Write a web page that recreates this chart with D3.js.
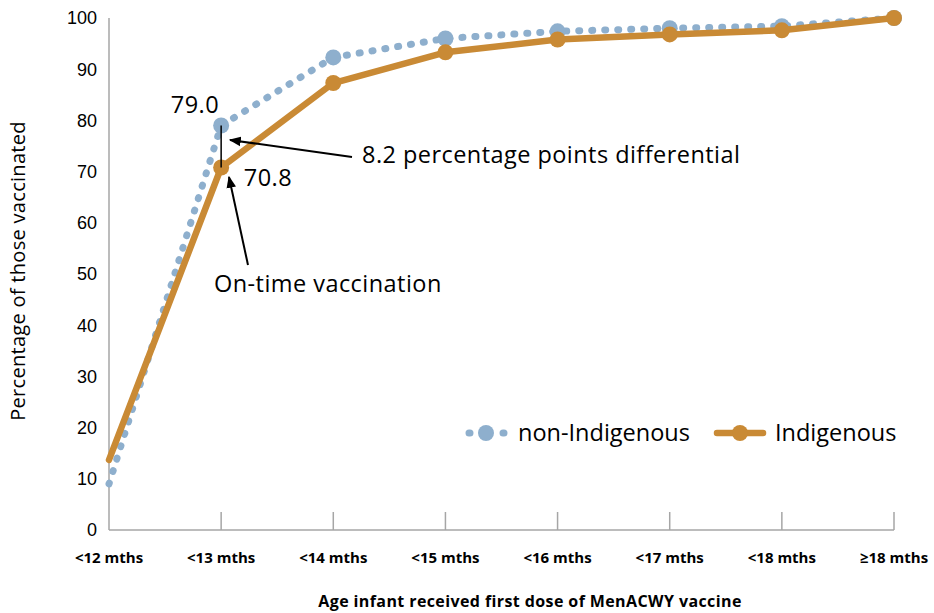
<!DOCTYPE html>
<html>
<head>
<meta charset="utf-8">
<script src="https://cdn.jsdelivr.net/npm/d3@7/dist/d3.min.js"></script>
<style>
body { margin: 0; background: #fff; }
.tick-y { font-family: "Liberation Sans", Arial, sans-serif; font-size: 18px; fill: #000; }
.tick-x { font-family: "Open Sans", sans-serif; font-weight: bold; font-size: 15px; fill: #000; }
.lbl { font-family: "Open Sans", sans-serif; font-size: 23.5px; letter-spacing: 0.45px; fill: #000; }
</style>
</head>
<body>
<svg></svg>
<script>

var width = 934;
var height = 613;

var categories = ["<12 mths", "<13 mths", "<14 mths", "<15 mths", "<16 mths", "<17 mths", "<18 mths", "\u226518 mths"];
var nonIndigenous = [9.0, 79.0, 92.3, 96.0, 97.4, 98.0, 98.4, 100];
var indigenous = [13.7, 70.8, 87.3, 93.3, 95.8, 96.8, 97.6, 100];
var yTicks = [0, 10, 20, 30, 40, 50, 60, 70, 80, 90, 100];

var blue = "#8eafcd";
var orange = "#c98a35";

var svg = d3.select("svg").attr("width", width).attr("height", height);

var x = d3.scalePoint().domain(categories).range([109, 894]);
var y = d3.scaleLinear().domain([0, 100]).range([530, 18]);

// axes
svg.append("line").attr("x1", 109).attr("x2", 109).attr("y1", y(100)).attr("y2", y(0))
  .attr("stroke", "#a6a6a6").attr("stroke-width", 1.5);
svg.append("line").attr("x1", 109).attr("x2", 894).attr("y1", y(0)).attr("y2", y(0))
  .attr("stroke", "#a6a6a6").attr("stroke-width", 1.5);

svg.selectAll(".xt").data(categories.slice(1)).enter().append("line")
  .attr("x1", d => x(d)).attr("x2", d => x(d))
  .attr("y1", y(0)).attr("y2", y(0) - 18)
  .attr("stroke", "#a6a6a6").attr("stroke-width", 1.5);

svg.selectAll(".ty").data(yTicks).enter().append("text")
  .attr("class", "tick-y")
  .attr("x", 97).attr("y", d => y(d)).attr("dy", "0.35em")
  .attr("text-anchor", "end").text(d => d);

svg.selectAll(".tx").data(categories).enter().append("text")
  .attr("class", "tick-x")
  .attr("x", d => x(d)).attr("y", 558).attr("dy", "0.35em")
  .attr("text-anchor", "middle").text(d => d);

svg.append("text").attr("class", "tick-x")
  .style("font-size", "16px").style("letter-spacing", "0.4px")
  .attr("x", 530).attr("y", 601).attr("dy", "0.35em").attr("text-anchor", "middle")
  .text("Age infant received first dose of MenACWY vaccine");

svg.append("text").attr("class", "lbl").style("font-size", "20px").style("letter-spacing", "0.3px")
  .attr("transform", "translate(18,271) rotate(-90)")
  .attr("dy", "0.35em").attr("text-anchor", "middle")
  .text("Percentage of those vaccinated");

var line = d3.line().x((d, i) => x(categories[i])).y(d => y(d));

// non-Indigenous dotted
svg.append("path").datum(nonIndigenous)
  .attr("d", line).attr("fill", "none")
  .attr("stroke", blue).attr("stroke-width", 7)
  .attr("stroke-linecap", "round").attr("stroke-dasharray", "1,12");
svg.selectAll(".pb").data(nonIndigenous).enter().append("circle")
  .attr("cx", (d, i) => x(categories[i])).attr("cy", d => y(d))
  .attr("r", (d, i) => i == 0 ? 0 : 8).attr("fill", blue);

// Indigenous solid
svg.append("path").datum(indigenous)
  .attr("d", line).attr("fill", "none")
  .attr("stroke", orange).attr("stroke-width", 6.5)
  .attr("stroke-linecap", "round").attr("stroke-linejoin", "round");
svg.selectAll(".po").data(indigenous).enter().append("circle")
  .attr("cx", (d, i) => x(categories[i])).attr("cy", d => y(d))
  .attr("r", (d, i) => i == 0 ? 0 : 8).attr("fill", orange);

// annotations
var x13 = x(categories[1]);
svg.append("line").attr("x1", x13).attr("x2", x13)
  .attr("y1", y(nonIndigenous[1])).attr("y2", y(indigenous[1]))
  .attr("stroke", "#000").attr("stroke-width", 1.5);
svg.append("text").attr("class", "lbl").attr("x", 195).attr("y", 105).attr("dy", "0.35em")
  .attr("text-anchor", "middle").text(nonIndigenous[1].toFixed(1));
svg.append("text").attr("class", "lbl").attr("x", 268).attr("y", 178).attr("dy", "0.35em")
  .attr("text-anchor", "middle").text(indigenous[1].toFixed(1));

svg.append("defs").append("marker").attr("id", "ah")
  .attr("viewBox", "0 0 10 10").attr("refX", 9).attr("refY", 5)
  .attr("markerWidth", 6).attr("markerHeight", 6).attr("orient", "auto")
  .append("path").attr("d", "M0,1 L10,5 L0,9 z").attr("fill", "#000");

svg.append("line").attr("x1", 352).attr("y1", 157).attr("x2", 230).attr("y2", 140)
  .attr("stroke", "#000").attr("stroke-width", 2).attr("marker-end", "url(#ah)");
svg.append("text").attr("class", "lbl").attr("x", 362).attr("y", 155).attr("dy", "0.35em")
  .text("8.2 percentage points differential");

svg.append("line").attr("x1", 248).attr("y1", 265).attr("x2", 229).attr("y2", 177)
  .attr("stroke", "#000").attr("stroke-width", 2).attr("marker-end", "url(#ah)");
svg.append("text").attr("class", "lbl").attr("x", 214).attr("y", 284).attr("dy", "0.35em")
  .text("On-time vaccination");

// legend
var lg = svg.append("g");
lg.append("line").attr("x1", 469).attr("x2", 504).attr("y1", 433).attr("y2", 433)
  .attr("stroke", blue).attr("stroke-width", 7).attr("stroke-linecap", "round")
  .attr("stroke-dasharray", "1,16");
lg.append("circle").attr("cx", 486).attr("cy", 433).attr("r", 8).attr("fill", blue);
lg.append("text").attr("class", "lbl").style("letter-spacing", "0px")
  .attr("x", 518).attr("y", 433).attr("dy", "0.35em").text("non-Indigenous");
lg.append("line").attr("x1", 717).attr("x2", 763).attr("y1", 433).attr("y2", 433)
  .attr("stroke", orange).attr("stroke-width", 6.5).attr("stroke-linecap", "round");
lg.append("circle").attr("cx", 740).attr("cy", 433).attr("r", 8).attr("fill", orange);
lg.append("text").attr("class", "lbl").style("letter-spacing", "0px")
  .attr("x", 775).attr("y", 433).attr("dy", "0.35em").text("Indigenous");

</script>
</body>
</html>
